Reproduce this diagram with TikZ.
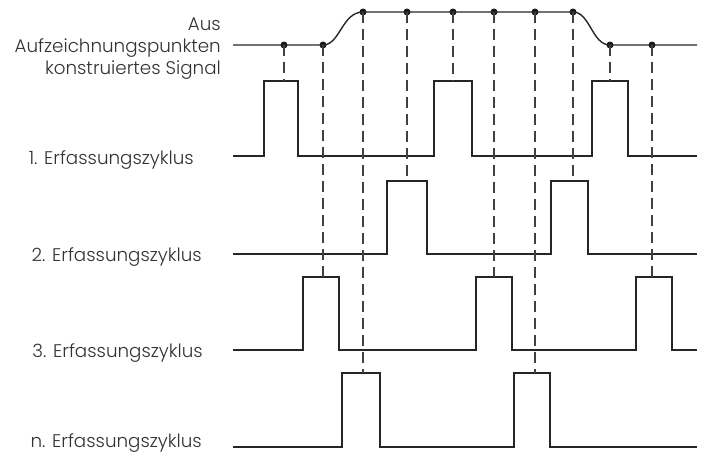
\documentclass[tikz,border=0pt]{standalone}
\usepackage{fontspec}
\setmainfont{Poppins Light}
\begin{document}
\begin{tikzpicture}[x=1pt,y=-1pt,
  trace/.style={line width=1.4pt,draw=black!85,line join=miter},
  sampleline/.style={line width=1.2pt,draw=black!75,dash pattern=on 11pt off 6pt},
  lbl/.style={anchor=base east,text=black!80,font=\fontsize{18.3}{22}\selectfont,inner sep=0pt},
  pt/.style={circle,fill=black!90,inner sep=0pt,minimum size=7pt}]
\useasboundingbox (0,0) rectangle (701,453);

% labels
\node[lbl] (tA) at (221,30) {Aus};
\node[lbl] (tB) at (221,52) {Aufzeichnungspunkten};
\node[lbl] (tC) at (221,74) {konstruiertes Signal};
\node[lbl] (l1) at (194,164) {1. Erfassungszyklus};
\node[lbl] (l2) at (202,261) {2. Erfassungszyklus};
\node[lbl] (l3) at (203,357) {3. Erfassungszyklus};
\node[lbl] (ln) at (202,447) {n. Erfassungszyklus};

% reconstructed signal
\coordinate (sStart) at (233,45);
\coordinate (sEnd) at (697,45);
\node[pt] (d1) at (284,45) {};
\node[pt] (d2) at (323,45) {};
\node[pt] (d3) at (363,12) {};
\node[pt] (d4) at (407,12) {};
\node[pt] (d5) at (453,12) {};
\node[pt] (d6) at (494,12) {};
\node[pt] (d7) at (535,12) {};
\node[pt] (d8) at (573,12) {};
\node[pt] (d9) at (610,45) {};
\node[pt] (d10) at (652,45) {};
\draw[trace] (sStart) -- (d2.center)
  .. controls (340,45) and (342,12) .. (d3.center)
  -- (d8.center)
  .. controls (590,12) and (592,45) .. (d9.center)
  -- (sEnd);

% cycle 1
\draw[trace] (233,156) -- (264,156) -- (264,81) -- (298,81) -- (298,156)
  -- (434,156) -- (434,81) -- (472,81) -- (472,156)
  -- (592,156) -- (592,81) -- (628,81) -- (628,156) -- (697,156);
% cycle 2
\draw[trace] (233,254) -- (387,254) -- (387,181) -- (427,181) -- (427,254)
  -- (551,254) -- (551,181) -- (588,181) -- (588,254) -- (697,254);
% cycle 3
\draw[trace] (233,350) -- (303,350) -- (303,277) -- (339,277) -- (339,350)
  -- (476,350) -- (476,277) -- (512,277) -- (512,350)
  -- (636,350) -- (636,277) -- (672,277) -- (672,350) -- (697,350);
% cycle n
\draw[trace] (233,447) -- (342,447) -- (342,373) -- (380,373) -- (380,447)
  -- (514,447) -- (514,373) -- (550,373) -- (550,447) -- (697,447);

% sample points on the pulse tops
\coordinate (p1) at (284,81);
\coordinate (p2) at (323,277);
\coordinate (p3) at (363,373);
\coordinate (p4) at (407,181);
\coordinate (p5) at (453,81);
\coordinate (p6) at (494,277);
\coordinate (p7) at (535,373);
\coordinate (p8) at (573,181);
\coordinate (p9) at (610,81);
\coordinate (p10) at (652,277);

\foreach \i in {1,...,10} \draw[sampleline] (d\i.center) -- (p\i);
\end{tikzpicture}
\end{document}
